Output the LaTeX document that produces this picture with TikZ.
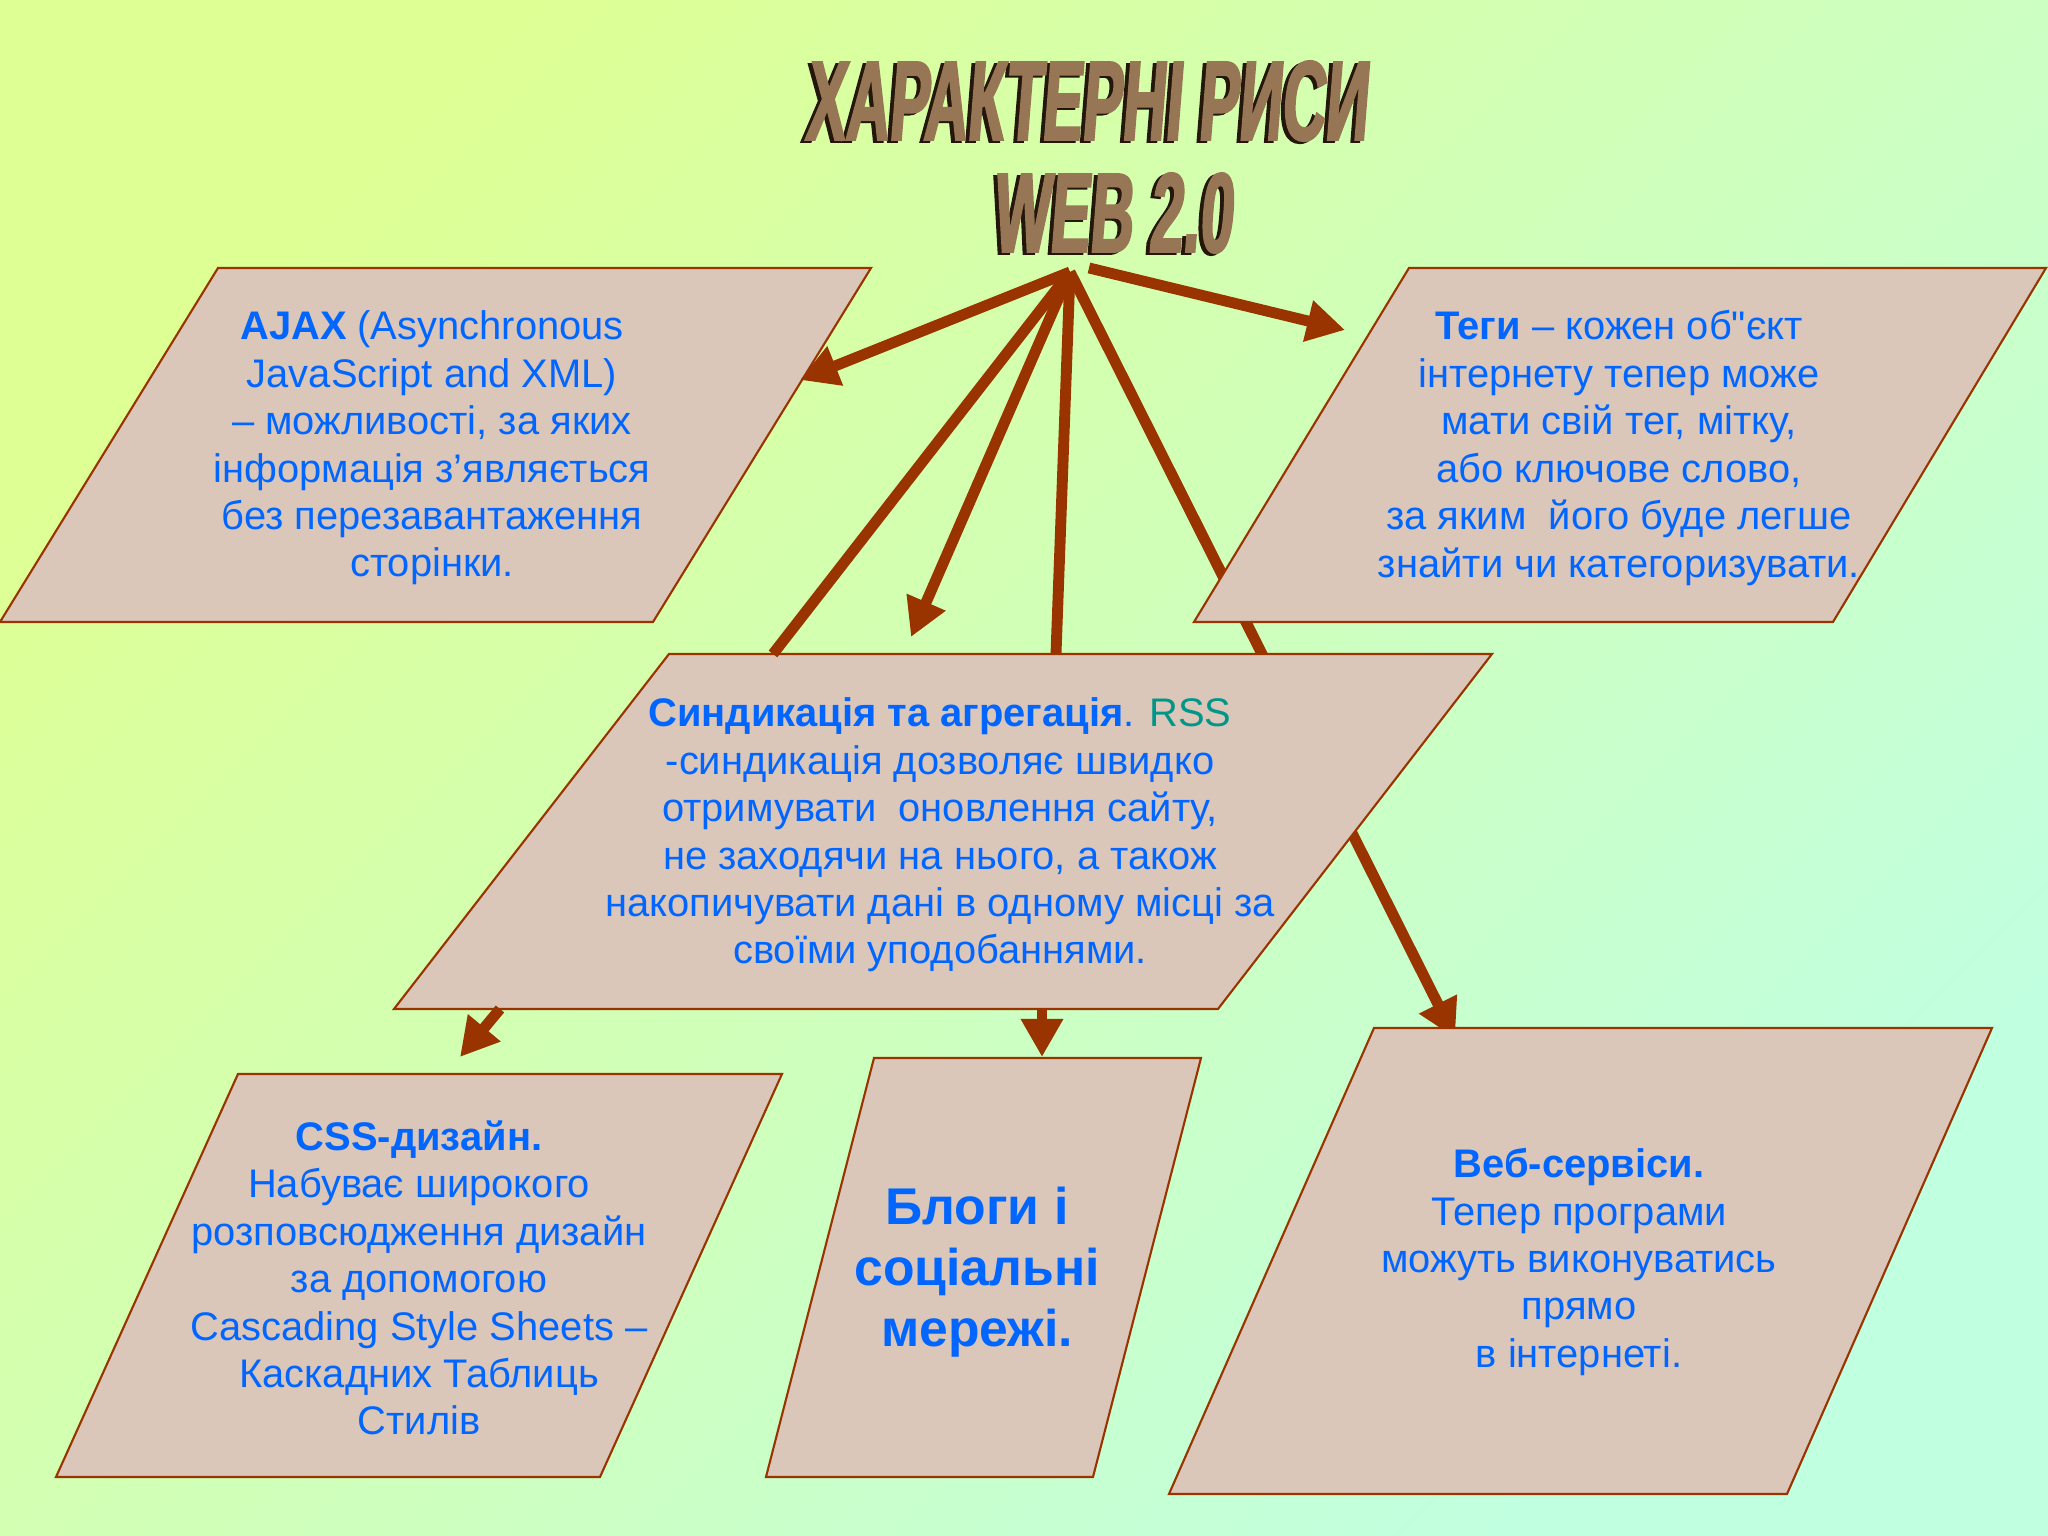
\documentclass[tikz,border=0pt]{standalone}
\usepackage{fontspec}
\setmainfont{Liberation Sans}[Ligatures=TeXOff]
\newfontfamily\titlefont[FakeStretch=0.53,FakeSlant=0.08,FakeBold=1.8]{Liberation Sans}
\usetikzlibrary{arrows.meta}
\definecolor{bgtl}{RGB}{222,255,148}
\definecolor{bgbr}{RGB}{192,255,224}
\definecolor{boxfill}{RGB}{219,198,186}
\definecolor{rust}{RGB}{153,51,0}
\definecolor{txtblue}{RGB}{0,102,255}
\definecolor{rssteal}{RGB}{0,150,136}
\definecolor{wordart}{RGB}{150,118,84}
\definecolor{wordshade}{RGB}{36,22,10}

\begin{document}
\begin{tikzpicture}[scale=1,
  box/.style={draw=rust, line width=0.6pt, fill=boxfill},
  txt/.style={text=txtblue, align=center, inner sep=0pt, font=\fontsize{11.35}{13.5}\selectfont},
  big/.style={text=txtblue, align=center, inner sep=0pt, font=\fontsize{14.7}{17.3}\selectfont\bfseries},
  arr/.style={draw=rust, line width=3.1pt, -{Triangle[length=0.38cm,width=0.40cm]}},
  bar/.style={draw=rust, line width=3.1pt},
  ttl/.style={inner sep=0pt, anchor=base, font=\titlefont\bfseries\fontsize{32.2}{32}\selectfont}]
\useasboundingbox (0,0) rectangle (20.48,15.36);
\shade [top color=bgtl, bottom color=bgbr, shading angle=45] (0,0) rectangle (20.48,15.36);

\coordinate (apex) at (10.70,12.64);
\coordinate (apexr) at (10.89,12.68);
\coordinate (ajaxin) at (8.00,11.56);
\coordinate (tegiin) at (13.45,12.06);
\coordinate (syndl) at (7.73,8.82);
\coordinate (syndm) at (10.56,8.82);
\coordinate (syndin) at (9.11,8.99);
\coordinate (webin) at (14.55,4.98);
\coordinate (cssout) at (5.00,5.27);
\coordinate (cssin) at (4.60,4.79);
\coordinate (blogout) at (10.42,5.27);
\coordinate (blogin) at (10.42,4.79);

\draw [arr] (apex) -- (webin);

\path [box] (2.18,12.68) -- (8.71,12.68) -- (6.53,9.14) -- (0,9.14) -- cycle;
\path [box] (14.09,12.68) -- (20.46,12.68) -- (18.33,9.14) -- (11.94,9.14) -- cycle;
\path [box] (6.69,8.82) -- (14.92,8.82) -- (12.18,5.27) -- (3.94,5.27) -- cycle;
\path [box] (2.38,4.62) -- (7.82,4.62) -- (6.00,0.59) -- (0.56,0.59) -- cycle;
\path [box] (8.74,4.78) -- (12.01,4.78) -- (10.93,0.59) -- (7.66,0.59) -- cycle;
\path [box] (13.74,5.08) -- (19.92,5.08) -- (17.87,0.42) -- (11.69,0.42) -- cycle;

\node [txt] (ajax) at (4.32,10.88) {\textbf{AJAX} (Asynchronous\\ JavaScript and XML)\\ – можливості, за яких\\ інформація з’являється\\ без перезавантаження\\ сторінки.};
\node [txt] (tegi) at (16.19,10.88) {\textbf{Теги} – кожен об"єкт\\ інтернету тепер може\\ мати свій тег, мітку,\\ або ключове слово,\\ за яким\ \ його буде легше\\ знайти чи категоризувати.};
\node [txt] (synd) at (9.40,7.01) {\textbf{Синдикація та агрегація}. \textcolor{rssteal}{RSS}\\ -синдикація дозволяє швидко\\ отримувати\ \ оновлення сайту,\\ не заходячи на нього, а також\\ накопичувати дані в одному місці за\\ своїми уподобаннями.};
\node [txt] (css) at (4.19,2.58) {\textbf{CSS-дизайн.}\\ Набуває широкого\\ розповсюдження дизайн\\ за допомогою\\ Cascading Style Sheets –\\ Каскадних Таблиць\\ Стилів};
\node [big] (blogs) at (9.77,2.64) {Блоги і\\ соціальні\\ мережі.};
\node [txt] (websrv) at (15.79,2.74) {\textbf{Веб-сервіси.}\\ Тепер програми\\ можуть виконуватись\\ прямо\\ в інтернеті.};

\draw [arr] (apex) -- (ajaxin);
\draw [bar] (apex) -- (syndl);
\draw [arr] (apex) -- (syndin);
\draw [bar] (apex) -- (syndm);
\draw [arr] (apexr) -- (tegiin);
\draw [arr] (cssout) -- (cssin);
\draw [arr] (blogout) -- (blogin);

\node [ttl, text=wordshade] (titleshd) at (10.82,13.94) {ХАРАКТЕРНІ РИСИ};
\node [ttl, text=wordart] (title) at (10.86,13.96) {ХАРАКТЕРНІ РИСИ};
\node [ttl, text=wordshade] (webshd) at (11.08,12.82) {WEB 2.0};
\node [ttl, text=wordart] (web) at (11.12,12.84) {WEB 2.0};
\end{tikzpicture}
\end{document}
